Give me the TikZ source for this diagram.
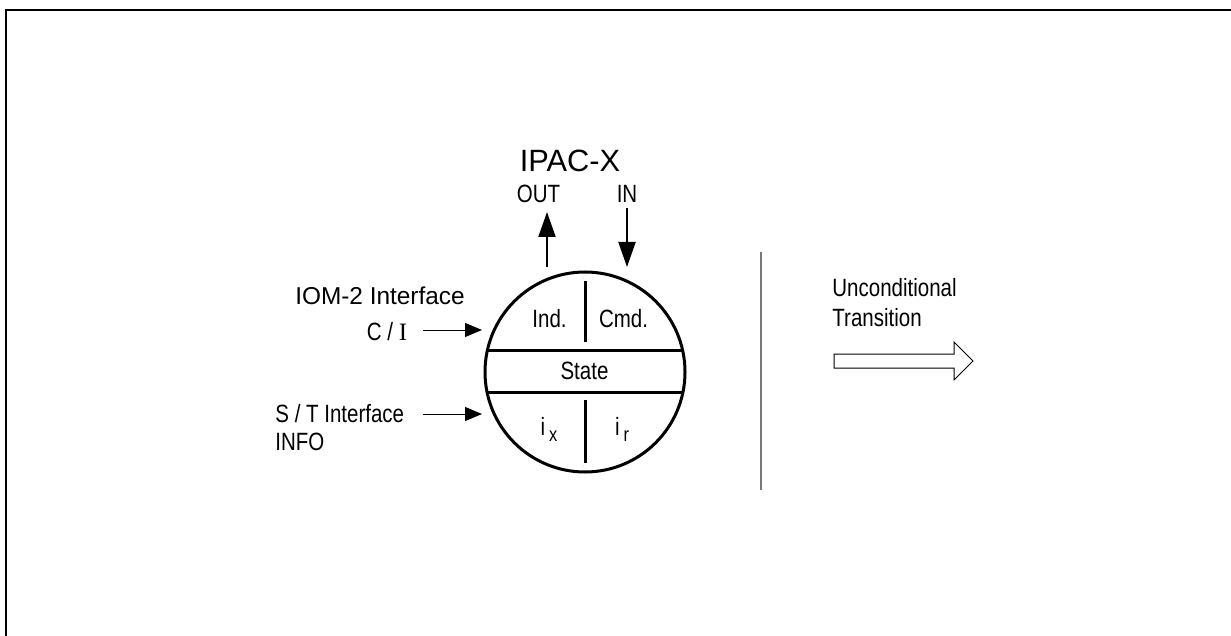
\documentclass[tikz,border=0pt]{standalone}
\usepackage{fontspec}
\setmainfont{Liberation Sans}
\newfontfamily\narrowfont[FakeStretch=0.82]{Liberation Sans}
\newfontfamily\timesfont{Liberation Serif}
\usetikzlibrary{arrows.meta,calc}
\definecolor{sepcolor}{RGB}{120,120,120}

\begin{document}
\begin{tikzpicture}[x=0.5pt, y=-0.5pt, font=\narrowfont\fontsize{12.5}{15}\selectfont,
    txt/.style={inner sep=0pt, anchor=base},
    bar/.style={line width=1.5pt},
    inarrow/.style={line width=0.5pt, -{Triangle[length=8.5pt,width=7pt]}},
    iparrow/.style={line width=1pt, -{Triangle[length=12.5pt,width=8.5pt]}}]
        \useasboundingbox (0,0) rectangle (1231,636);
        \draw[line width=0.6pt] (1231,10) -- (6,10) -- (6,636);
        \node[circle, draw, line width=1.5pt, minimum size=100pt, inner sep=0pt] (st) at (585,372) {};
        \draw[bar] ($(st.center)+(-97.5,-22)$) -- ($(st.center)+(97.5,-22)$);
        \draw[bar] ($(st.center)+(-98,20)$) -- ($(st.center)+(98,20)$);
        \draw[bar] ($(st.center)+(0,-91)$) -- ($(st.center)+(0,-30)$);
        \draw[bar] ($(st.center)+(0,28)$) -- ($(st.center)+(0,91)$);
        \node[txt] (ind) at (549.5,328) {Ind.};
        \node[txt] (cmd) at (623.5,328) {Cmd.};
        \node[txt] (state) at (584.5,379) {State};
        \node[txt] (ix) at (549,435) {i\hspace{2pt}\raisebox{-3pt}{\fontsize{10}{10}\selectfont x}};
        \node[txt] (ir) at (622,435) {i\hspace{2pt}\raisebox{-3pt}{\fontsize{10}{10}\selectfont r}};
        \node[txt, font=\normalfont\fontsize{15.4}{18}\selectfont] (ipac) at (570,172) {IPAC-X};
        \node[txt] (out) at (538.5,203) {OUT};
        \node[txt] (in) at (627,203) {IN};
        \coordinate (outs) at (547,267);
        \coordinate (oute) at (547,212);
        \coordinate (ins) at (627,208);
        \coordinate (ine) at (627,267);
        \draw[iparrow] (outs) -- (oute);
        \draw[iparrow] (ins) -- (ine);
        \node[txt, font=\normalfont\fontsize{12.2}{14}\selectfont] (iom) at (380,305) {IOM-2 Interface};
        \node[txt] (ci) at (387,340) {C / {\timesfont I}};
        \node[txt, anchor=base west] (st1) at (275,422) {S / T Interface};
        \node[txt, anchor=base west] (info) at (275,450) {INFO};
        \coordinate (cis) at (423,330);
        \coordinate (cie) at (482,330);
        \coordinate (sts) at (423,414);
        \coordinate (ste) at (482,414);
        \draw[inarrow] (cis) -- (cie);
        \draw[inarrow] (sts) -- (ste);
        \draw[sepcolor, line width=0.8pt] (761,252) -- (761,490);
        \node[txt, anchor=base west] (unc) at (832,297) {Unconditional};
        \node[txt, anchor=base west] (trans) at (832,326) {Transition};
        \draw[line width=0.5pt] (834,354) -- (954,354) -- (954,342) -- (973,361) -- (954,380) -- (954,368) -- (834,368) -- cycle;
      \end{tikzpicture}
\end{document}
